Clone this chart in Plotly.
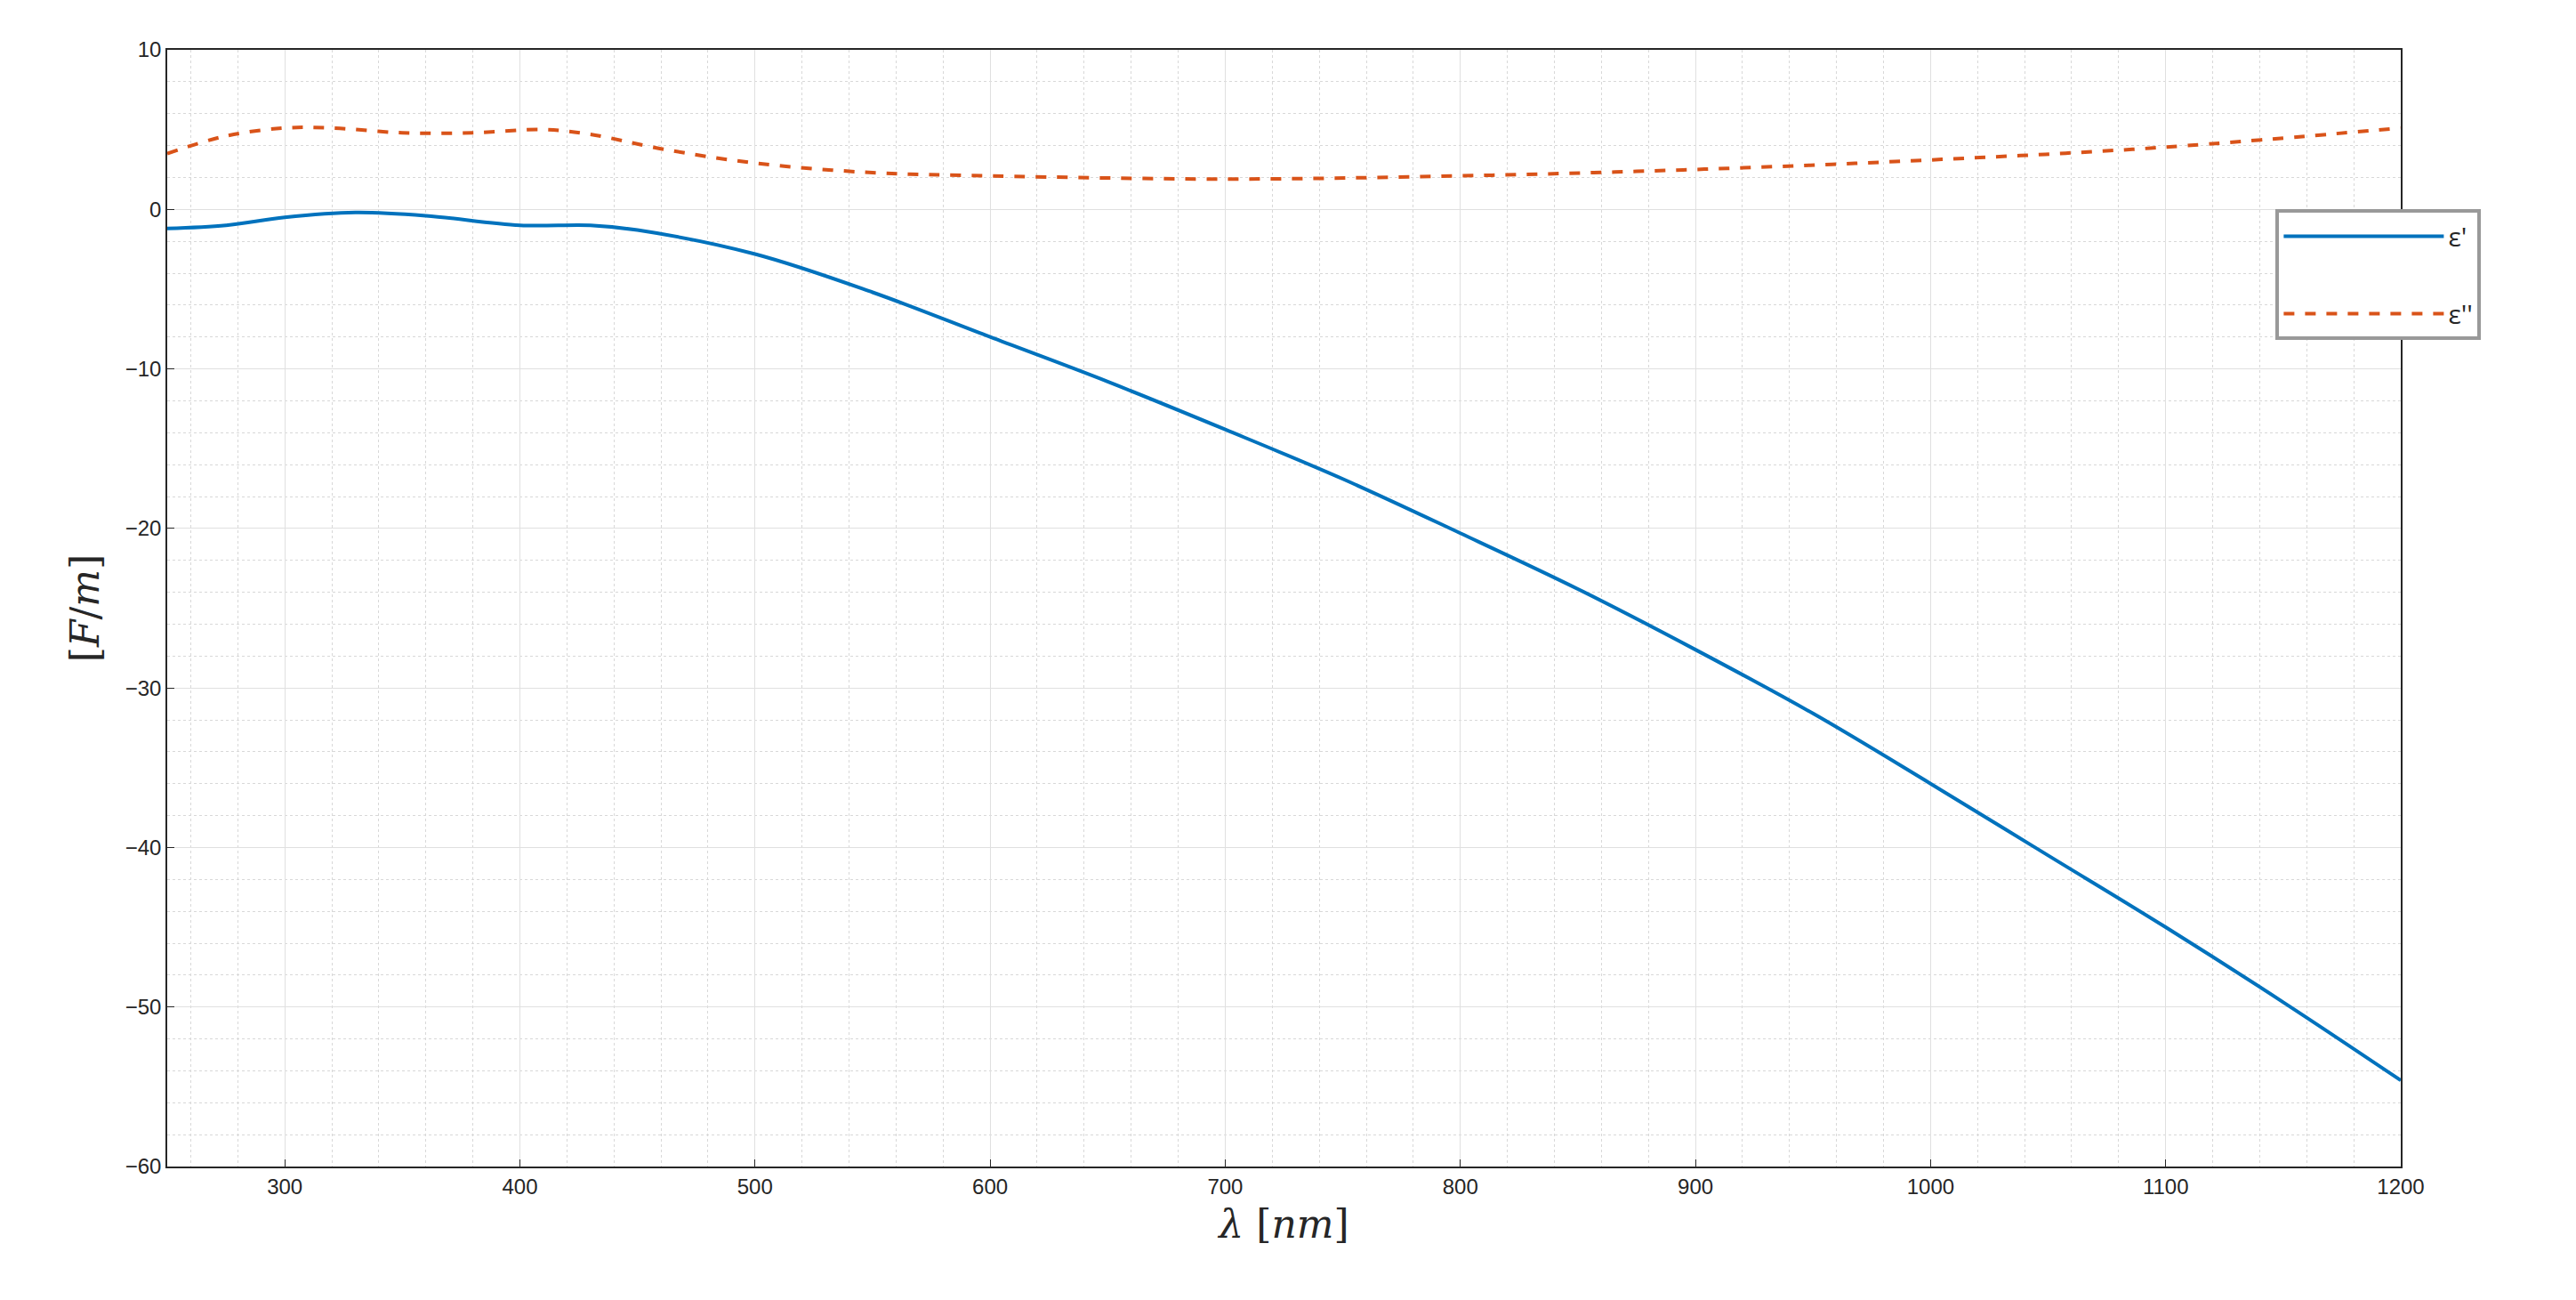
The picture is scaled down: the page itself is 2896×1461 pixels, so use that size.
import plotly.graph_objects as go

wl_re = [250, 275, 300, 330, 360, 400, 430, 450, 500, 550, 600, 650, 700, 750, 800, 850, 900, 950, 1000, 1050, 1100, 1150, 1200]
eps_re = [-1.2, -1.0, -0.5, -0.2, -0.4, -1.0, -1.0, -1.3, -2.8, -5.2, -8.0, -10.8, -13.8, -16.9, -20.3, -23.8, -27.6, -31.6, -36.0, -40.5, -45.0, -49.7, -54.6]
wl_im = [250, 275, 300, 320, 350, 380, 410, 430, 460, 500, 550, 600, 700, 800, 900, 1000, 1100, 1200]
eps_im = [3.5, 4.6, 5.1, 5.1, 4.8, 4.8, 5.0, 4.7, 3.8, 2.9, 2.3, 2.1, 1.9, 2.1, 2.5, 3.1, 3.9, 5.1]

fig = go.Figure()
fig.add_trace(go.Scatter(x=wl_re, y=eps_re, mode="lines", name="ε'", legendgroup="a",
                         line=dict(color="#0072BD", width=4, shape="spline")))
fig.add_trace(go.Scatter(x=wl_im, y=eps_im, mode="lines", name="ε''", legendgroup="b",
                         line=dict(color="#D95319", width=4, dash="dash", shape="spline")))

ax = dict(showline=True, linecolor="#262626", mirror=True, linewidth=1.5, ticks="inside",
          ticklen=8, tickcolor="#262626", gridcolor="#E0E0E0", zeroline=False,
          tickfont=dict(family="Liberation Sans, Arial", size=24, color="#262626"))
fig.update_xaxes(range=[250, 1200], tickvals=list(range(300, 1201, 100)),
                 minor=dict(dtick=20, showgrid=True, gridcolor="#D8D8D8", griddash="dot"),
                 title=dict(text="<i>λ</i> [<i>nm</i>]", font=dict(family="DejaVu Serif", size=44, color="#262626")),
                 **ax)
fig.update_yaxes(range=[-60, 10], dtick=10,
                 minor=dict(dtick=2, showgrid=True, gridcolor="#D8D8D8", griddash="dot"),
                 title=dict(text="[<i>F</i>/<i>m</i>]", font=dict(family="DejaVu Serif", size=44, color="#262626")),
                 **ax)
fig.update_layout(width=2896, height=1461, plot_bgcolor="white", paper_bgcolor="white",
                  margin=dict(l=180, r=205, t=48, b=158),
                  legend=dict(x=0.944, y=0.857, xanchor="left", yanchor="top", bgcolor="white",
                              bordercolor="#999", borderwidth=4, font=dict(size=30, color="#262626"),
                              itemwidth=180, tracegroupgap=45, traceorder="grouped"))
fig.write_html("out.html")
